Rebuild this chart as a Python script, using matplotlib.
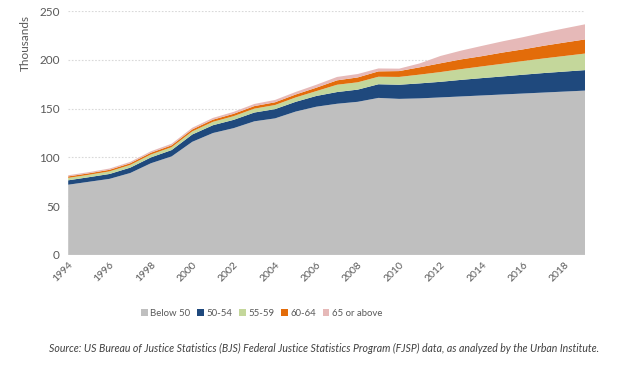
import numpy as np
import matplotlib
matplotlib.use('Agg')
import matplotlib.pyplot as plt
from matplotlib.patches import Patch

plt.rcParams['font.family'] = ['Lato', 'DejaVu Sans']

years = list(range(1994, 2020))

# thousands of inmates, by age group (stacked pieces)
below_50 = [72, 75, 78, 84, 94, 101, 116, 125, 130, 137, 140, 147, 152, 155, 157, 161, 160,
            160.5, 161.5, 162.5, 163.5, 164.5, 165.5, 166.5, 167.5, 168.5]
age_50_54 = [4.5, 4.7, 5, 5.5, 6, 6.5, 7.5, 8, 8.5, 9, 9.5, 10, 11, 12, 12.5, 14, 14.5,
             15.4, 16, 17, 17.8, 18.5, 19.3, 20, 20.5, 21]
age_55_59 = [2.5, 2.5, 2.7, 2.8, 3, 3, 3.2, 3.5, 3.8, 4, 4.2, 4.5, 5, 7.5, 7.5, 7.7, 8,
             9, 10, 11, 12, 13, 14, 15, 16, 17]
age_60_64 = [1.5, 1.5, 1.6, 1.7, 1.8, 1.9, 2, 2.2, 2.4, 2.6, 2.8, 3, 3.5, 4.5, 5, 5.5, 6,
             7.5, 9, 10, 10.5, 11.5, 12, 13, 13.8, 14.5]
age_65_up = [1.2, 1.2, 1.3, 1.4, 1.5, 1.6, 1.7, 1.8, 2, 2.2, 2.4, 2.6, 3, 3.5, 3.5, 3, 2.5,
             4, 7.5, 9, 10.5, 11.5, 12.5, 13.5, 14.5, 15.5]

labels = ['Below 50', '50-54', '55-59', '60-64', '65 or above']
colors = ['#BFBFBF', '#1F497D', '#C4D79B', '#E36C0A', '#E6B9B8']
tick_years = list(range(1994, 2019, 2))

fig = plt.figure(figsize=(6.2, 3.7), dpi=100)
ax = fig.add_axes([0.11, 0.311, 0.834, 0.659])

ax.stackplot(years, below_50, age_50_54, age_55_59, age_60_64, age_65_up,
             colors=colors, linewidth=0, zorder=2)

ax.set_xlim(1994, 2019)
ax.set_ylim(0, 250)
ax.set_yticks(range(0, 251, 50))
ax.set_xticks(tick_years)
ax.set_xticklabels([str(y) for y in tick_years], rotation=45, ha='right',
                   rotation_mode='anchor', fontsize=7.5, color='#595959')
ax.tick_params(axis='y', labelsize=8.5, colors='#595959', length=0, pad=6)
ax.tick_params(axis='x', length=0, pad=4)
ax.grid(axis='y', linestyle=(0, (1.5, 1.5)), color='#D9D9D9', linewidth=0.8, zorder=0)
for s in ax.spines.values():
    s.set_visible(False)
ax.set_ylabel('Thousands', fontsize=8.5, color='#595959')
ax.yaxis.set_label_coords(-0.073, 0.87)

handles = [Patch(facecolor=c, edgecolor='none') for c in colors]
fig.legend(handles, labels, loc='center', bbox_to_anchor=(0.422, 0.154), ncol=5,
           frameon=False, fontsize=6.9, handlelength=0.7, handleheight=0.7,
           handletextpad=0.25, columnspacing=0.7, labelcolor='#595959')

fig.text(0.523, 0.059, 'Source: US Bureau of Justice Statistics (BJS) Federal Justice Statistics '
         'Program (FJSP) data, as analyzed by the Urban Institute.',
         ha='center', va='center', fontsize=7.6, style='italic', color='#404040')

fig.savefig('out.png', dpi=100)
